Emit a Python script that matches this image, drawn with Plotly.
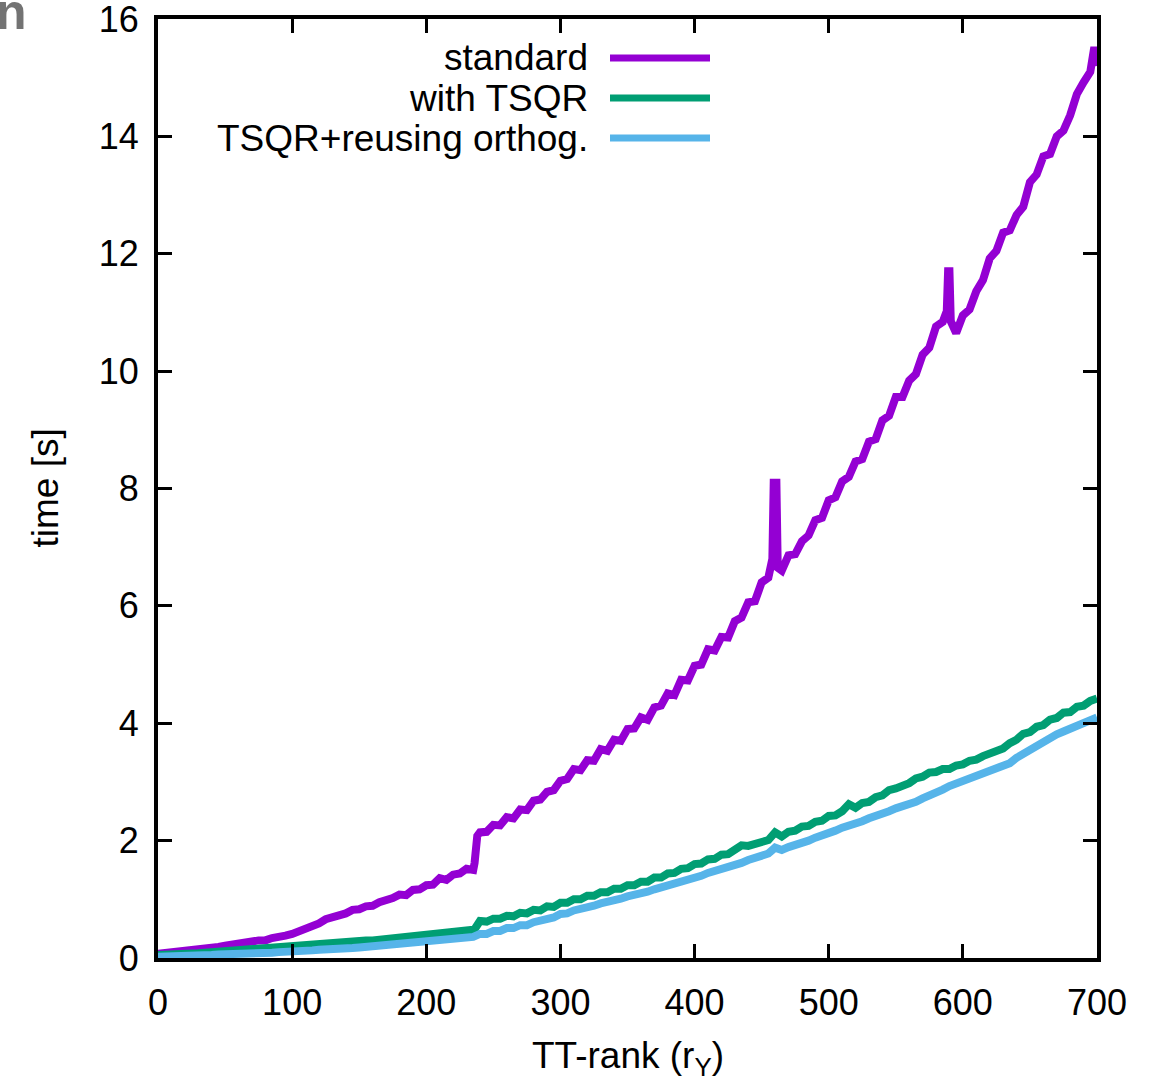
import plotly.graph_objects as go

# ---------------- data ----------------
std_rank = [0, 5, 10, 15, 20, 25, 30, 35, 40, 45, 50, 55, 60, 65, 70, 75, 80, 85, 90, 95,
            100, 105, 110, 115, 120, 125, 130, 135, 140, 145, 150, 155, 160, 165, 170, 175,
            180, 185, 190, 195, 200, 205, 210, 215, 220, 225, 230, 235, 236, 238, 240, 245,
            250, 255, 260, 265, 270, 275, 280, 285, 290, 295, 300, 305, 310, 315, 320, 325,
            330, 335, 340, 345, 350, 355, 360, 365, 370, 375, 380, 385, 390, 395, 400, 405,
            410, 415, 420, 425, 430, 435, 440, 445, 450, 455, 458, 459, 461, 462, 465, 470,
            475, 480, 485, 490, 495, 500, 505, 510, 515, 520, 525, 530, 535, 540, 545, 550,
            555, 560, 565, 570, 575, 580, 585, 588, 589, 590, 591, 595, 600, 605, 610, 615,
            620, 625, 630, 635, 640, 645, 650, 655, 660, 665, 670, 675, 680, 685, 690, 695,
            698, 700]
std_time = [0.07, 0.08, 0.09, 0.10, 0.12, 0.13, 0.15, 0.16, 0.18, 0.19, 0.21, 0.22, 0.24, 0.26,
            0.28, 0.30, 0.30, 0.34, 0.35, 0.38, 0.41, 0.45, 0.50, 0.56, 0.59, 0.66, 0.69, 0.74,
            0.76, 0.82, 0.83, 0.88, 0.89, 0.95, 0.97, 1.02, 1.08, 1.07, 1.16, 1.17, 1.24, 1.25,
            1.36, 1.33, 1.42, 1.44, 1.52, 1.50, 1.62, 2.08, 2.14, 2.15, 2.27, 2.26, 2.40, 2.38,
            2.53, 2.52, 2.68, 2.70, 2.83, 2.86, 3.02, 3.05, 3.22, 3.20, 3.37, 3.36, 3.56, 3.53,
            3.72, 3.70, 3.90, 3.91, 4.10, 4.06, 4.27, 4.30, 4.51, 4.48, 4.74, 4.73, 4.98, 5.00,
            5.26, 5.24, 5.47, 5.46, 5.74, 5.80, 6.06, 6.08, 6.40, 6.48, 6.80, 8.10, 8.10, 6.65,
            6.60, 6.86, 6.88, 7.10, 7.20, 7.46, 7.50, 7.80, 7.85, 8.12, 8.20, 8.46, 8.50, 8.80,
            8.84, 9.16, 9.24, 9.56, 9.56, 9.84, 9.95, 10.28, 10.40, 10.76, 10.84, 11.02, 11.70,
            11.70, 10.85, 10.65, 10.95, 11.05, 11.36, 11.55, 11.92, 12.05, 12.36, 12.40, 12.66,
            12.80, 13.22, 13.35, 13.66, 13.70, 14.00, 14.10, 14.36, 14.72, 14.92, 15.10, 15.52,
            15.20]

tsqr_rank = [0, 5, 10, 15, 20, 25, 30, 35, 40, 45, 50, 55, 60, 65, 70, 75, 80, 85, 90, 95,
             100, 105, 110, 115, 120, 125, 130, 135, 140, 145, 150, 155, 160, 165, 170, 175,
             180, 185, 190, 195, 200, 205, 210, 215, 220, 225, 230, 235, 236, 238, 240, 245,
             250, 255, 260, 265, 270, 275, 280, 285, 290, 295, 300, 305, 310, 315, 320, 325,
             330, 335, 340, 345, 350, 355, 360, 365, 370, 375, 380, 385, 390, 395, 400, 405,
             410, 415, 420, 425, 430, 435, 440, 445, 450, 455, 460, 465, 470, 475, 480, 485,
             490, 495, 500, 505, 510, 515, 520, 525, 530, 535, 540, 545, 550, 555, 560, 565,
             570, 575, 580, 585, 590, 595, 600, 605, 610, 615, 620, 625, 630, 635, 640, 645,
             650, 655, 660, 665, 670, 675, 680, 685, 690, 695, 700]
tsqr_time = [0.05, 0.05, 0.06, 0.06, 0.07, 0.08, 0.08, 0.09, 0.10, 0.10, 0.11, 0.12, 0.12, 0.13,
             0.14, 0.15, 0.16, 0.17, 0.18, 0.18, 0.19, 0.20, 0.21, 0.22, 0.23, 0.24, 0.25, 0.26,
             0.27, 0.28, 0.29, 0.30, 0.30, 0.31, 0.32, 0.33, 0.34, 0.35, 0.36, 0.37, 0.38, 0.39,
             0.41, 0.42, 0.44, 0.45, 0.47, 0.48, 0.49, 0.60, 0.63, 0.62, 0.67, 0.67, 0.72, 0.71,
             0.77, 0.76, 0.82, 0.81, 0.88, 0.87, 0.94, 0.94, 1.00, 1.00, 1.06, 1.06, 1.12, 1.12,
             1.18, 1.18, 1.24, 1.24, 1.30, 1.30, 1.37, 1.37, 1.44, 1.45, 1.52, 1.53, 1.60, 1.61,
             1.68, 1.69, 1.76, 1.77, 1.84, 1.92, 1.91, 1.95, 2.00, 2.01, 2.14, 2.07, 2.15, 2.17,
             2.24, 2.25, 2.32, 2.34, 2.42, 2.43, 2.50, 2.62, 2.56, 2.64, 2.66, 2.74, 2.77, 2.86,
             2.89, 2.93, 2.98, 3.06, 3.09, 3.16, 3.17, 3.22, 3.22, 3.28, 3.30, 3.36, 3.38, 3.44,
             3.48, 3.54, 3.57, 3.66, 3.72, 3.82, 3.85, 3.94, 3.97, 4.06, 4.09, 4.18, 4.19, 4.28,
             4.30, 4.38, 4.42]

reuse_rank = [0, 5, 10, 15, 20, 25, 30, 35, 40, 45, 50, 55, 60, 65, 70, 75, 80, 85, 90, 95,
              100, 105, 110, 115, 120, 125, 130, 135, 140, 145, 150, 155, 160, 165, 170, 175,
              180, 185, 190, 195, 200, 205, 210, 215, 220, 225, 230, 235, 240, 245, 250, 255,
              260, 265, 270, 275, 280, 285, 290, 295, 300, 305, 310, 315, 320, 325, 330, 335,
              340, 345, 350, 355, 360, 365, 370, 375, 380, 385, 390, 395, 400, 405, 410, 415,
              420, 425, 430, 435, 440, 445, 450, 455, 460, 465, 470, 475, 480, 485, 490, 495,
              500, 505, 510, 515, 520, 525, 530, 535, 540, 545, 550, 555, 560, 565, 570, 575,
              580, 585, 590, 595, 600, 605, 610, 615, 620, 625, 630, 635, 640, 645, 650, 655,
              660, 665, 670, 675, 680, 685, 690, 695, 700]
reuse_time = [0.02, 0.02, 0.03, 0.03, 0.03, 0.04, 0.04, 0.05, 0.05, 0.06, 0.06, 0.07, 0.07, 0.08,
              0.08, 0.08, 0.09, 0.09, 0.10, 0.10, 0.11, 0.12, 0.12, 0.13, 0.14, 0.14, 0.15, 0.16,
              0.17, 0.17, 0.18, 0.19, 0.20, 0.21, 0.21, 0.22, 0.23, 0.24, 0.25, 0.26, 0.27, 0.28,
              0.29, 0.31, 0.32, 0.33, 0.35, 0.36, 0.41, 0.41, 0.46, 0.46, 0.51, 0.51, 0.56, 0.56,
              0.61, 0.63, 0.67, 0.69, 0.75, 0.76, 0.81, 0.83, 0.87, 0.89, 0.93, 0.95, 0.99, 1.01,
              1.05, 1.07, 1.11, 1.13, 1.17, 1.20, 1.24, 1.26, 1.31, 1.33, 1.38, 1.40, 1.45, 1.48,
              1.52, 1.55, 1.60, 1.62, 1.67, 1.70, 1.75, 1.78, 1.88, 1.84, 1.89, 1.92, 1.97, 2.00,
              2.05, 2.08, 2.14, 2.17, 2.22, 2.25, 2.30, 2.33, 2.38, 2.41, 2.47, 2.50, 2.55, 2.58,
              2.63, 2.66, 2.72, 2.76, 2.83, 2.87, 2.93, 2.97, 3.03, 3.06, 3.11, 3.14, 3.19, 3.22,
              3.27, 3.32, 3.41, 3.48, 3.57, 3.62, 3.69, 3.74, 3.81, 3.86, 3.91, 3.96, 4.01, 4.04,
              4.10]

series_names = ["standard", "with TSQR", "TSQR+reusing orthog."]
series_colors = ["#9400D3", "#009E73", "#56B4E9"]

x_ticks = [0, 100, 200, 300, 400, 500, 600, 700]
y_ticks = [0, 2, 4, 6, 8, 10, 12, 14, 16]

# ---------------- figure ----------------
# The page body margin is removed (post_script below), so the figure fills
# the window and screen pixels equal figure pixels.
W, H = 1157, 1088
PL, PT, PR, PB = 158, 19, 1097, 958          # plot area in screen pixels
L, T, R, B = PL, PT, W - PR, H - PB
PW, PH = PR - PL, PB - PT


def sx(px):
    return (px - PL) / PW


def sy(py):
    return (PB - py) / PH


fig = go.Figure()
for rk, tm, nm, col in zip([std_rank, tsqr_rank, reuse_rank],
                           [std_time, tsqr_time, reuse_time],
                           series_names, series_colors):
    fig.add_trace(go.Scatter(x=rk, y=tm, mode="lines", name=nm,
                             line=dict(color=col, width=8), showlegend=False))

font_family = "Liberation Sans, Arial, sans-serif"
FS = 36
FS2 = 37
axis_common = dict(
    automargin=False, ticklabeloverflow="allow",
    showgrid=False, zeroline=False, showline=True, linecolor="black", linewidth=4,
    mirror="ticks", ticks="inside", ticklen=14, tickwidth=3, tickcolor="black",
    tickfont=dict(family=font_family, size=FS, color="black"),
)
fig.update_xaxes(range=[0, 700], tickvals=x_ticks, ticklabelstandoff=10, **axis_common)
fig.update_yaxes(range=[0, 16], tickvals=y_ticks, ticklabelstandoff=8, **axis_common)

annotations = [
    dict(text="TT-rank (r<sub>Y</sub>)", x=0.5, y=sy(1058), xref="paper", yref="paper",
         showarrow=False, xanchor="center", yanchor="middle",
         font=dict(family=font_family, size=FS2, color="black")),
    dict(text="time [s]", x=sx(45), y=0.5, xref="paper", yref="paper",
         showarrow=False, xanchor="center", yanchor="middle", textangle=-90,
         font=dict(family=font_family, size=FS2, color="black")),
    dict(text="<b>n</b>", x=sx(-6), y=sy(-18), xref="paper", yref="paper",
         showarrow=False, xanchor="left", yanchor="top",
         font=dict(family=font_family, size=50, color="#737373")),
]
shapes = []
legend_rows_y = [58, 98, 138]
for nm, col, yy in zip(series_names, series_colors, legend_rows_y):
    annotations.append(dict(text=nm, x=sx(590), y=sy(yy), xref="paper", yref="paper",
                            showarrow=False, xanchor="right", yanchor="middle",
                            font=dict(family=font_family, size=FS2, color="black")))
    shapes.append(dict(type="line", xref="paper", yref="paper",
                       x0=sx(610), x1=sx(710), y0=sy(yy), y1=sy(yy),
                       line=dict(color=col, width=7)))

fig.update_layout(
    template="none",
    width=W, height=H,
    margin=dict(l=L, r=R, t=T, b=B, pad=0),
    paper_bgcolor="white", plot_bgcolor="white",
    annotations=annotations, shapes=shapes,
    showlegend=False,
)

fig.write_html(
    "out.html",
    config={"displayModeBar": False},
    post_script="document.body.style.margin='0';document.body.style.overflow='hidden';",
)
